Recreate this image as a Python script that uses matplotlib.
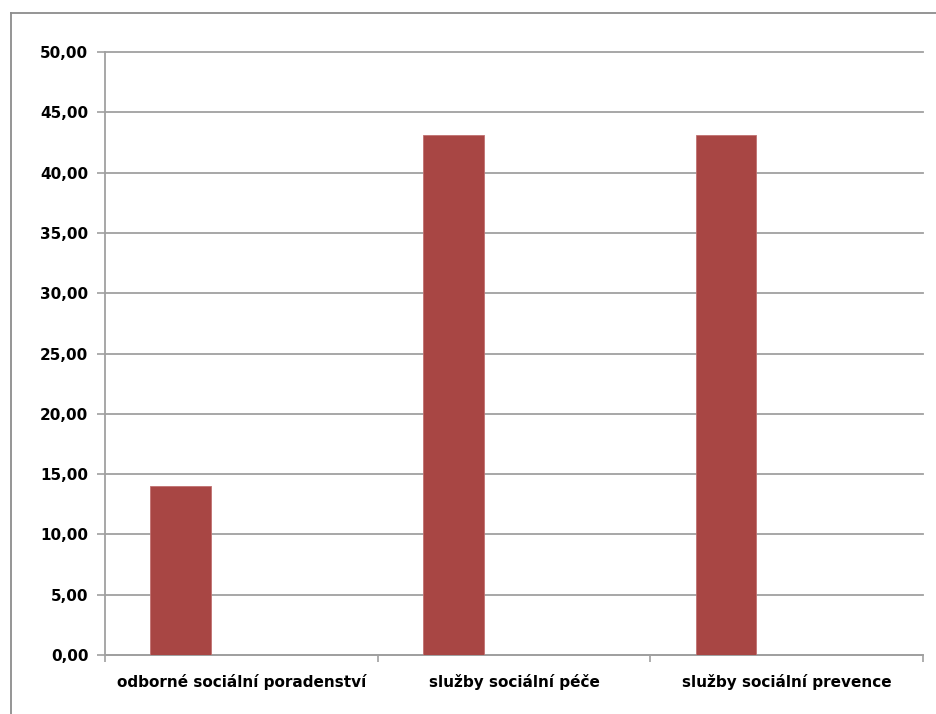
import numpy as np
import matplotlib.pyplot as plt
from matplotlib.lines import Line2D
from matplotlib.ticker import FuncFormatter

categories = ['odborné sociální poradenství', 'služby sociální péče', 'služby sociální prevence']
values = [14.0, 43.1, 43.1]
y_ticks = [0, 5, 10, 15, 20, 25, 30, 35, 40, 45, 50]

bar_color = '#A84644'
grid_color = '#A0A0A0'

fig = plt.figure(figsize=(9.36, 7.14), dpi=100)
ax = fig.add_axes([105 / 936, 1 - 655 / 714, 818 / 936, 603 / 714])

# outer chart-area frame (only top and left edges visible)
fig.add_artist(Line2D([11 / 936, 1.0], [1 - 12.5 / 714] * 2, transform=fig.transFigure,
                      color='#8C8C8C', lw=1.3))
fig.add_artist(Line2D([11 / 936] * 2, [0.0, 1 - 12.5 / 714], transform=fig.transFigure,
                      color='#8C8C8C', lw=1.3))

# three series per category, only the first one has data
n_series = 3
width = 1 / (n_series + 1.5)
x = np.arange(len(categories))
ax.bar(x - width, values, width=width, color=bar_color, edgecolor='#C07070', linewidth=0.6, zorder=3)

ax.set_xlim(-0.5, len(categories) - 0.5)
ax.set_ylim(0, 50)
ax.set_yticks(y_ticks)
ax.yaxis.set_major_formatter(FuncFormatter(lambda v, p: f'{v:.2f}'.replace('.', ',')))
ax.grid(axis='y', color=grid_color, lw=1.3, zorder=0)
for gl in ax.get_ygridlines():
    gl.set_clip_on(False)

ax.set_xticks(np.arange(len(categories) + 1) - 0.5)
ax.set_xticklabels([])
ax.set_xticks(x, minor=True)
ax.set_xticklabels(categories, minor=True)
ax.tick_params(axis='x', which='major', length=5, width=1.2, color=grid_color, direction='out')
ax.tick_params(axis='x', which='minor', length=0, pad=14)
ax.tick_params(axis='y', length=6, width=1.2, color=grid_color, pad=6)

for lbl in ax.get_xticklabels(minor=True) + ax.get_yticklabels():
    lbl.set_fontweight('bold')
    lbl.set_fontsize(11)
    lbl.set_fontfamily('DejaVu Sans')

for s in ['top', 'right']:
    ax.spines[s].set_visible(False)
ax.spines['left'].set_color(grid_color)
ax.spines['bottom'].set_color(grid_color)
ax.spines['left'].set_linewidth(1.3)
ax.spines['bottom'].set_linewidth(1.3)

fig.savefig('out.png', dpi=100)
